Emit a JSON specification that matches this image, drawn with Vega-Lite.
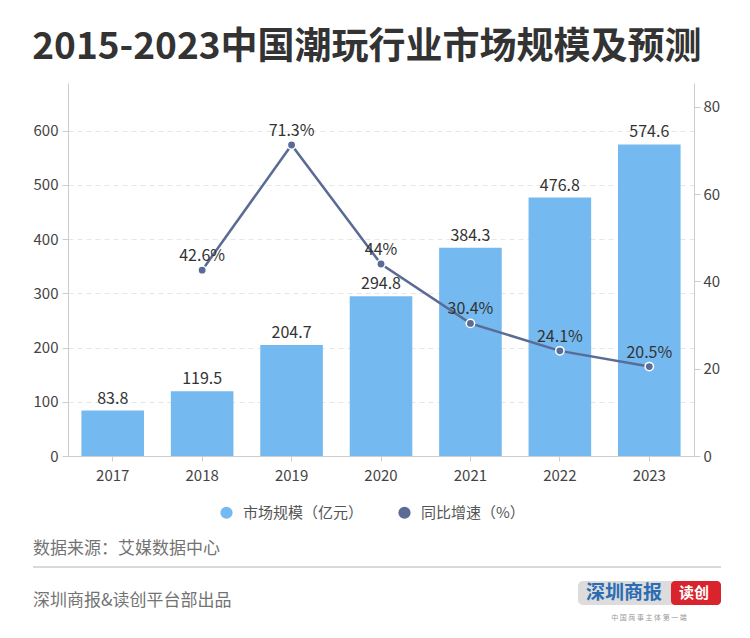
{
  "$schema": "https://vega.github.io/schema/vega-lite/v6.json",
  "background": "white",
  "padding": {"left": 32, "top": 29, "right": 0, "bottom": 0},
  "title": {"text": "2015-2023中国潮玩行业市场规模及预测", "anchor": "start", "fontSize": 37, "fontWeight": "bold", "font": "Noto Sans CJK SC", "color": "#333333", "offset": 16},
  "config": {"view": {"stroke": null}, "font": "Noto Sans CJK SC"},
  "spacing": 48,
  "vconcat": [
    {
      "width": 626,
      "height": 373,
      "data": {"values": [
        {"year": "2017", "size": 83.8, "growth": null, "glabel": ""},
        {"year": "2018", "size": 119.5, "growth": 42.6, "glabel": "42.6%"},
        {"year": "2019", "size": 204.7, "growth": 71.3, "glabel": "71.3%"},
        {"year": "2020", "size": 294.8, "growth": 44, "glabel": "44%"},
        {"year": "2021", "size": 384.3, "growth": 30.4, "glabel": "30.4%"},
        {"year": "2022", "size": 476.8, "growth": 24.1, "glabel": "24.1%"},
        {"year": "2023", "size": 574.6, "growth": 20.5, "glabel": "20.5%"}
      ]},
      "encoding": {
        "x": {"field": "year", "type": "ordinal", "title": null, "scale": {"paddingInner": 0.3, "paddingOuter": 0.15},
          "axis": {"labelAngle": 0, "domainColor": "#cccccc", "tickColor": "#cccccc", "tickSize": 5, "labelPadding": 7, "labelFontSize": 15, "labelColor": "#444444"}}
      },
      "layer": [
        {
          "encoding": {
            "y": {"field": "size", "type": "quantitative", "title": null, "scale": {"domain": [0, 688], "nice": false},
              "axis": {"values": [0, 100, 200, 300, 400, 500, 600], "grid": true, "gridDash": [5, 4], "gridColor": "#e6e6e6", "domainColor": "#cccccc", "tickColor": "#cccccc", "tickSize": 6, "labelFontSize": 15, "labelColor": "#444444", "labelPadding": 4}}
          },
          "layer": [
            {
              "mark": {"type": "bar"},
              "encoding": {
                "color": {"datum": "市场规模（亿元）", "type": "nominal",
                  "scale": {"domain": ["市场规模（亿元）", "同比增速（%）"], "range": ["#74b9f0", "#5a6c95"]},
                  "legend": {"orient": "none", "legendX": 151, "legendY": 422, "direction": "horizontal", "title": null, "symbolType": "circle", "symbolSize": 150, "symbolStrokeWidth": 0, "labelFontSize": 15, "labelColor": "#555555", "labelOffset": 9, "columnPadding": 33}}
              }
            },
            {
              "mark": {"type": "text", "baseline": "bottom", "dy": -4, "fontSize": 16, "color": "#333333"},
              "encoding": {"text": {"field": "size", "type": "quantitative", "format": ".1f"}}
            }
          ]
        },
        {
          "transform": [{"filter": "datum.growth != null"}],
          "encoding": {
            "y": {"field": "growth", "type": "quantitative", "title": null, "scale": {"domain": [0, 85.5], "nice": false},
              "axis": {"orient": "right", "values": [0, 20, 40, 60, 80], "grid": false, "domainColor": "#cccccc", "tickColor": "#cccccc", "tickSize": 6, "labelFontSize": 15, "labelColor": "#444444", "labelPadding": 3}}
          },
          "layer": [
            {
              "mark": {"type": "line", "strokeWidth": 2.5},
              "encoding": {"color": {"datum": "同比增速（%）", "type": "nominal"}}
            },
            {
              "mark": {"type": "point", "filled": true, "size": 70, "stroke": "white", "strokeWidth": 1.5, "opacity": 1},
              "encoding": {"color": {"datum": "同比增速（%）", "type": "nominal"}}
            },
            {
              "mark": {"type": "text", "baseline": "bottom", "dy": -6, "fontSize": 16, "color": "#333333"},
              "encoding": {"text": {"field": "glabel", "type": "nominal"}}
            }
          ]
        }
      ],
      "resolve": {"scale": {"y": "independent"}}
    },
    {
      "width": 653,
      "height": 100,
      "data": {"values": [{}]},
      "layer": [
        {
          "mark": {"type": "text", "align": "left", "baseline": "middle", "fontSize": 17, "color": "#737373", "text": "数据来源：艾媒数据中心"},
          "encoding": {
            "x": {"datum": -35, "type": "quantitative", "scale": {"domain": [0, 653], "nice": false, "zero": false}, "axis": null},
            "y": {"datum": 18, "type": "quantitative", "scale": {"domain": [0, 100], "nice": false, "reverse": true}, "axis": null}
          }
        },
        {
          "mark": {"type": "rule", "color": "#cccccc", "strokeWidth": 1.5},
          "encoding": {
            "x": {"datum": -35, "type": "quantitative"},
            "x2": {"datum": 653},
            "y": {"datum": 36, "type": "quantitative"}
          }
        },
        {
          "mark": {"type": "text", "align": "left", "baseline": "middle", "fontSize": 17, "color": "#737373", "text": "深圳商报&读创平台部出品"},
          "encoding": {
            "x": {"datum": -35, "type": "quantitative"},
            "y": {"datum": 70, "type": "quantitative"}
          }
        },
        {
          "mark": {"type": "rect", "color": "#dcdcdc", "cornerRadius": 5},
          "encoding": {
            "x": {"datum": 510, "type": "quantitative"},
            "x2": {"datum": 653},
            "y": {"datum": 50, "type": "quantitative"},
            "y2": {"datum": 74}
          }
        },
        {
          "mark": {"type": "rect", "color": "#d9232d", "cornerRadius": 4},
          "encoding": {
            "x": {"datum": 603, "type": "quantitative"},
            "x2": {"datum": 653},
            "y": {"datum": 50, "type": "quantitative"},
            "y2": {"datum": 74}
          }
        },
        {
          "mark": {"type": "text", "align": "center", "baseline": "middle", "fontSize": 19, "fontWeight": "bold", "color": "#2c6cb4", "text": "深圳商报"},
          "encoding": {
            "x": {"datum": 556, "type": "quantitative"},
            "y": {"datum": 62, "type": "quantitative"}
          }
        },
        {
          "mark": {"type": "text", "align": "center", "baseline": "middle", "fontSize": 15, "fontWeight": "bold", "color": "white", "text": "读创"},
          "encoding": {
            "x": {"datum": 626, "type": "quantitative"},
            "y": {"datum": 62, "type": "quantitative"}
          }
        },
        {
          "mark": {"type": "text", "align": "center", "baseline": "middle", "fontSize": 7, "color": "#999999", "text": "中  国  商  事  主  体  第  一  端"},
          "encoding": {
            "x": {"datum": 581, "type": "quantitative"},
            "y": {"datum": 87, "type": "quantitative"}
          }
        }
      ]
    }
  ]
}
